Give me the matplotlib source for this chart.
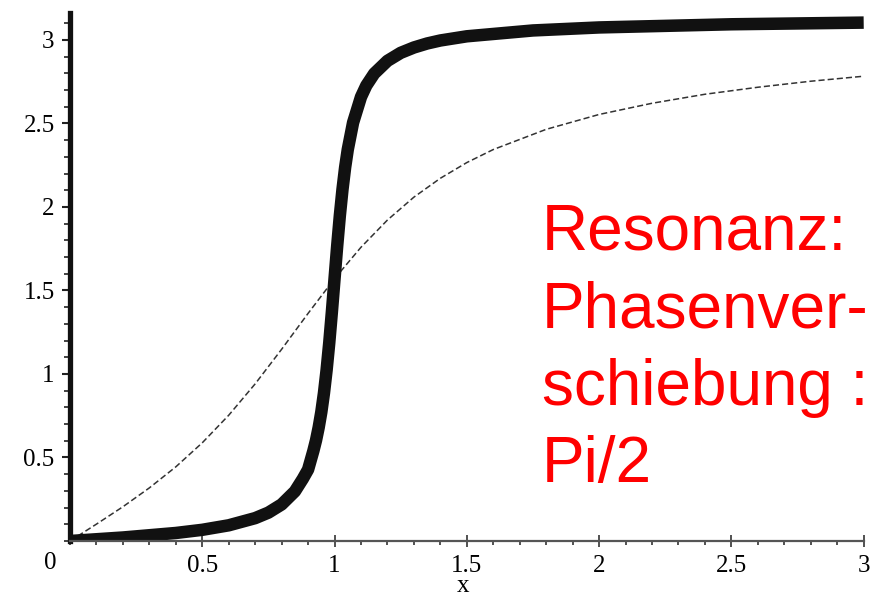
import numpy as np
import matplotlib
matplotlib.use("Agg")
import matplotlib.pyplot as plt
from matplotlib.ticker import MultipleLocator

# phase curve, weak damping (thick line)
x_weak = [0.0, 0.2, 0.4, 0.5, 0.6, 0.7, 0.75, 0.8, 0.85, 0.88, 0.9, 0.92, 0.93,
          0.94, 0.95, 0.96, 0.97, 0.98, 0.99, 1.0, 1.01, 1.02, 1.03, 1.04, 1.05,
          1.07, 1.1, 1.12, 1.15, 1.2, 1.25, 1.3, 1.35, 1.4, 1.5, 1.75, 2.0,
          2.5, 3.0]
y_weak = [0.0, 0.021, 0.048, 0.067, 0.094, 0.137, 0.170, 0.219, 0.297, 0.372,
          0.428, 0.540, 0.603, 0.680, 0.772, 0.886, 1.024, 1.187, 1.373, 1.571,
          1.767, 1.948, 2.105, 2.237, 2.344, 2.505, 2.659, 2.727, 2.799, 2.875,
          2.923, 2.955, 2.979, 2.997, 3.022, 3.057, 3.075, 3.094, 3.104]

# phase curve, strong damping (thin line)
x_strong = [0.0, 0.1, 0.2, 0.3, 0.4, 0.5, 0.6, 0.7, 0.8, 0.9, 1.0, 1.1, 1.2,
            1.3, 1.4, 1.5, 1.6, 1.8, 2.0, 2.2, 2.4, 2.6, 2.8, 3.0]
y_strong = [0.0, 0.101, 0.205, 0.318, 0.444, 0.588, 0.753, 0.941, 1.148, 1.363,
            1.571, 1.759, 1.922, 2.059, 2.172, 2.266, 2.344, 2.465, 2.554, 2.621,
            2.675, 2.717, 2.753, 2.783]

x_ticks = [0.5, 1, 1.5, 2, 2.5, 3]
y_ticks = [0.5, 1, 1.5, 2, 2.5, 3]
note = "Resonanz:\nPhasenver-\nschiebung :\nPi/2"

fig = plt.figure(figsize=(8.78, 5.97), dpi=100)
ax = fig.add_axes([0.0797, 0.0938, 0.904, 0.884])

ax.plot(x_strong, y_strong, color="#333333", lw=1.1, ls=(0, (4, 2)))
ax.plot(x_weak, y_weak, color="#111111", lw=9, solid_capstyle="butt",
        solid_joinstyle="round")

ax.set_xlim(0, 3)
ax.set_ylim(0, 3.16)

for s in ["top", "right"]:
    ax.spines[s].set_visible(False)
ax.spines["left"].set_linewidth(3.8)
ax.spines["left"].set_color("#111111")
ax.spines["bottom"].set_linewidth(1.6)
ax.spines["bottom"].set_color("#555555")

ax.set_xticks(x_ticks)
ax.set_xticklabels([f"{v:g}" for v in x_ticks])
ax.set_yticks(y_ticks)
ax.set_yticklabels([f"{v:g}" for v in y_ticks])
ax.xaxis.set_minor_locator(MultipleLocator(0.1))
ax.yaxis.set_minor_locator(MultipleLocator(0.1))

ax.tick_params(axis="x", which="major", direction="inout", length=8, width=1.2,
               color="#333333", pad=6, labelsize=18)
ax.tick_params(axis="x", which="minor", direction="out", length=3, width=1.2,
               color="#333333")
ax.tick_params(axis="y", which="major", direction="out", length=6, width=1.5,
               color="#222222", pad=5, labelsize=18)
ax.tick_params(axis="y", which="minor", direction="out", length=4, width=1.2,
               color="#222222")
for lab in ax.get_xticklabels() + ax.get_yticklabels():
    lab.set_family("Liberation Serif")

ax.text(-0.075, -0.13, "0", family="Liberation Serif", fontsize=18,
        ha="center", va="center", clip_on=False)
ax.text(1.485, -0.27, "x", family="Liberation Serif", fontsize=18,
        ha="center", va="center", clip_on=False)

ax.text(0.6175, 0.66, note, transform=fig.transFigure, color="#ff0000",
        family="Liberation Sans", fontsize=46, ha="left", va="top",
        linespacing=1.37)

fig.savefig("out.png", dpi=100)
